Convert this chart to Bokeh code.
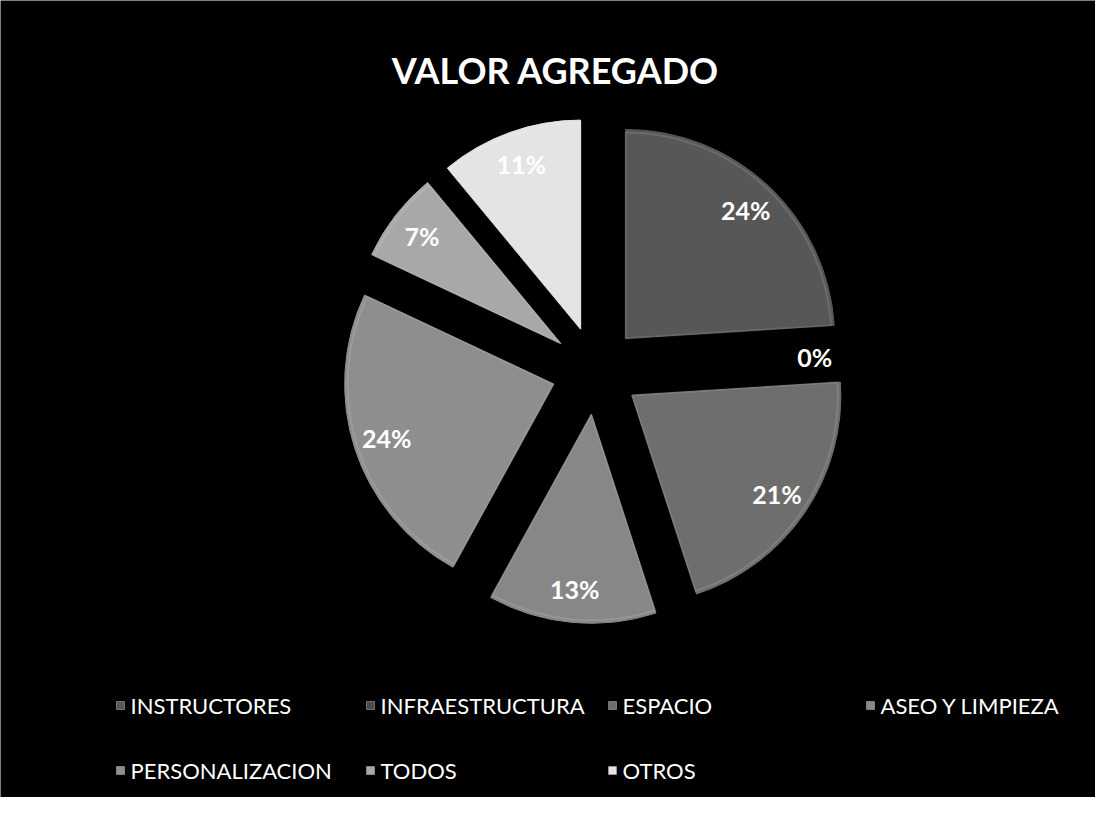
import math
from bokeh.plotting import figure
from bokeh.models import Range1d, ColumnDataSource
from bokeh.core.properties import value
from bokeh.embed import file_html
from bokeh.resources import INLINE

title = "VALOR AGREGADO"
categories = ["INSTRUCTORES", "INFRAESTRUCTURA", "ESPACIO", "ASEO Y LIMPIEZA",
              "PERSONALIZACION", "TODOS", "OTROS"]
values = [24, 0, 21, 13, 24, 7, 11]
colors = ["#575757", "#4a4a4a", "#6e6e6e", "#878787", "#8e8e8e", "#a8a8a8", "#e4e4e4"]

# layout (pixel-like data units)
W, H = 1095, 797
CX, CY = 595, 427
R = 209
EXPLODE = 44
LABEL_FRAC = 0.84

total = float(sum(values))
wx, wy, ws, we, wf = [], [], [], [], []
lx, ly, texts = [], [], []
acc = 0.0
for v, c in zip(values, colors):
    a1 = acc / total * 2 * math.pi          # clockwise from top
    a2 = (acc + v) / total * 2 * math.pi
    mid = (a1 + a2) / 2
    ax = CX + EXPLODE * math.sin(mid)
    ay = CY + EXPLODE * math.cos(mid)
    if v > 0:
        wx.append(ax); wy.append(ay)
        ws.append(math.pi / 2 - a2)
        we.append(math.pi / 2 - a1)
        wf.append(c)
    lx.append(ax + LABEL_FRAC * R * math.sin(mid))
    ly.append(ay + LABEL_FRAC * R * math.cos(mid))
    texts.append(f"{round(v / total * 100)}%")
    acc += v

wsrc = ColumnDataSource(dict(x=wx, y=wy, start=ws, end=we, fill=wf))
lsrc = ColumnDataSource(dict(lx=lx, ly=ly, txt=texts))

p = figure(width=W, height=H, output_backend="svg", toolbar_location=None,
           x_range=Range1d(0, W), y_range=Range1d(0, H), min_border=0)
p.axis.visible = False
p.grid.visible = False
p.outline_line_color = None
p.background_fill_color = "#000000"
p.border_fill_color = "#000000"

p.wedge(x="x", y="y", radius=R, start_angle="start", end_angle="end",
        fill_color="fill", line_color="fill", line_width=1, source=wsrc)
p.wedge(x="x", y="y", radius=R - 3, start_angle="start", end_angle="end",
        fill_color=None, line_color="#ffffff", line_alpha=0.12, line_width=2,
        source=wsrc)

p.text(x="lx", y="ly", text="txt", source=lsrc, text_color="#ffffff",
       text_font=value("Lato"), text_font_style="bold", text_font_size="25px",
       text_align="center", text_baseline="middle")

p.text(x=[555], y=[728], text=[title], text_color="#ffffff",
       text_font=value("Lato"), text_font_style="bold", text_font_size="36px",
       text_align="center", text_baseline="middle")

# legend
leg_x = [120, 370, 612, 870, 120, 370, 612]
leg_y = [92, 92, 92, 92, 27, 27, 27]
p.scatter(x=leg_x, y=leg_y, marker="square", size=8, fill_color=colors,
          line_color="#bbbbbb", line_width=0.5)
p.text(x=[x + 10 for x in leg_x], y=leg_y, text=categories, text_color="#ffffff",
       text_font=value("Lato"), text_font_size="22px",
       text_align="left", text_baseline="middle")

open("out.html", "w").write(file_html(p, INLINE))
